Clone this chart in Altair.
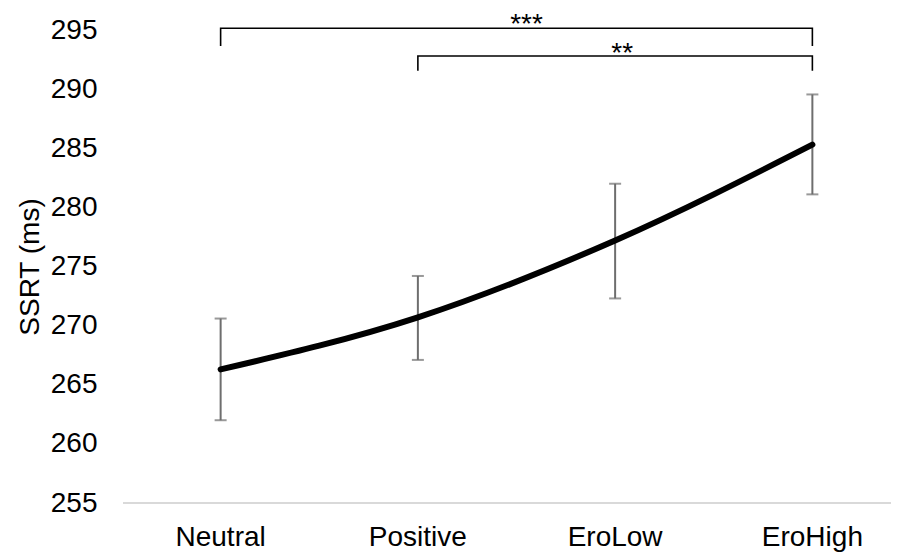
import altair as alt
import pandas as pd

# ---- data ----
categories = ["Neutral", "Positive", "EroLow", "EroHigh"]
ssrt_mean = [266.3, 270.7, 277.2, 285.3]
ssrt_low = [262.0, 267.1, 272.3, 281.1]
ssrt_high = [270.6, 274.2, 282.0, 289.55]

# significance brackets
bracket_from = ["Neutral", "Positive"]
bracket_to = ["EroHigh", "EroHigh"]
bracket_top = [295.15, 292.8]
bracket_bottom = [293.65, 291.55]
bracket_label = ["***", "**"]
label_at = ["Positive", "EroLow"]
label_band = [1.0, 0.5]
label_y = [294.72, 292.32]

y_ticks = [255, 260, 265, 270, 275, 280, 285, 290, 295]

FONT = "Liberation Sans"
LABEL_DX = [10, 7]

df = pd.DataFrame({"cond": categories, "mean": ssrt_mean,
                   "lo": ssrt_low, "hi": ssrt_high})

rows = []
for i in range(len(bracket_from)):
    pts = [(bracket_from[i], bracket_bottom[i]), (bracket_from[i], bracket_top[i]),
           (bracket_to[i], bracket_top[i]), (bracket_to[i], bracket_bottom[i])]
    for k, (c, v) in enumerate(pts):
        rows.append({"b": i, "k": k, "cond": c, "v": v})
bdf = pd.DataFrame(rows)

xscale = alt.Scale(domain=categories, range=[-1, 788], paddingInner=0, paddingOuter=0)
yscale = alt.Scale(domain=[255, 295], nice=False, zero=False)

x_enc = alt.X("cond:N", sort=categories, scale=xscale,
              axis=alt.Axis(title=None, domain=False, ticks=False, grid=False,
                            labelAngle=0, labelFontSize=28, labelFont=FONT,
                            labelColor="#000000", labelPadding=20))
y_axis = alt.Axis(title="SSRT (ms)", values=y_ticks, domain=False, ticks=False,
                  grid=False, labelFontSize=28, labelFont=FONT,
                  labelColor="#000000", labelPadding=26, titleFontSize=28,
                  titleFont=FONT, titleFontWeight="normal", titleColor="#000000",
                  titlePadding=6)

base = alt.Chart(df)

baseline = alt.Chart(pd.DataFrame({"v": [255]})).mark_rule(
    color="#d9d9d9", strokeWidth=2
).encode(y=alt.Y("v:Q", scale=yscale, axis=y_axis),
         x=alt.value(0), x2=alt.value(780))

err = base.mark_rule(color="#6e6e6e", strokeWidth=2).encode(
    x=x_enc, y=alt.Y("lo:Q", scale=yscale), y2="hi:Q")
cap_lo = base.mark_tick(color="#6e6e6e", thickness=2, size=12, orient="horizontal").encode(
    x=alt.X("cond:N", sort=categories, scale=xscale), y=alt.Y("lo:Q", scale=yscale))
cap_hi = base.mark_tick(color="#6e6e6e", thickness=2, size=12, orient="horizontal").encode(
    x=alt.X("cond:N", sort=categories, scale=xscale), y=alt.Y("hi:Q", scale=yscale))

line = base.mark_line(color="#000000", strokeWidth=6, interpolate="monotone",
                      strokeCap="round").encode(
    x=alt.X("cond:N", sort=categories, scale=xscale),
    y=alt.Y("mean:Q", scale=yscale))

brackets = alt.Chart(bdf).mark_line(color="#000000", strokeWidth=1.6).encode(
    x=alt.X("cond:N", sort=categories, scale=xscale),
    y=alt.Y("v:Q", scale=yscale), detail="b:N", order="k:Q")

labels = []
for i in range(len(bracket_label)):
    labels.append(
        alt.Chart(pd.DataFrame({"cond": [label_at[i]], "v": [label_y[i]],
                                "t": [bracket_label[i]]}))
        .mark_text(fontSize=28, font=FONT, color="#000000", baseline="alphabetic",
                   align="center", dx=LABEL_DX[i])
        .encode(x=alt.X("cond:N", sort=categories, scale=xscale,
                        bandPosition=label_band[i]),
                y=alt.Y("v:Q", scale=yscale), text="t:N")
    )

chart = alt.layer(baseline, err, cap_lo, cap_hi, line, brackets, *labels).properties(
    width=768, height=473,
    autosize=alt.AutoSizeParams(type="none"),
    padding={"left": 115, "top": 22, "right": 0, "bottom": 50},
).configure_view(stroke=None)

chart.save("out.html", embed_options={"renderer": "svg", "actions": False})
